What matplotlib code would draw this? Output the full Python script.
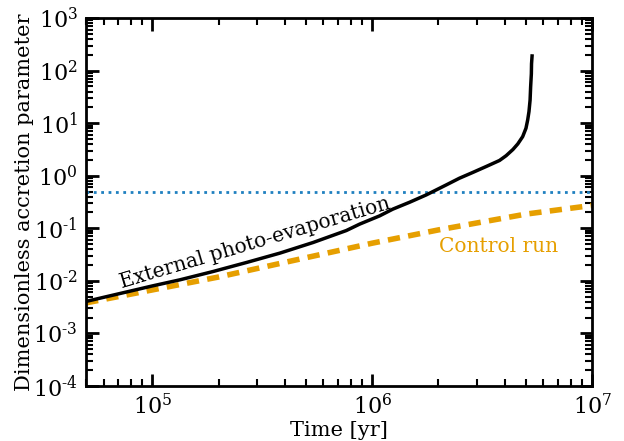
import math
import matplotlib
matplotlib.use('Agg')
import matplotlib.pyplot as plt

# external photo-evaporation run
t_ext = [5e4, 1e5, 1.337e5, 1.89e5, 2.68e5, 3.8e5, 5.38e5, 7.62e5, 8.77e5, 1.08e6,
         1.24e6, 1.48e6, 1.76e6, 2.17e6, 2.49e6, 2.86e6, 3.3e6, 3.79e6, 4.06e6, 4.36e6,
         4.59e6, 4.83e6, 5.0e6, 5.09e6, 5.16e6, 5.22e6, 5.25e6, 5.29e6, 5.30e6, 5.33e6]
a_ext = [4.05e-3, 7.98e-3, 0.01045, 0.01503, 0.0223, 0.0336, 0.0535, 0.0904, 0.12, 0.172,
         0.231, 0.313, 0.431, 0.668, 0.895, 1.15, 1.5, 1.95, 2.4, 3.15,
         4.03, 5.54, 8.0, 11.5, 16.6, 27.5, 49, 87, 135, 190]

# control run
t_ctrl = [5e4, 1e5, 2e5, 5e5, 1e6, 2e6, 5e6, 1e7]
a_ctrl = [3.8e-3, 6.7e-3, 1.18e-2, 2.75e-2, 5.2e-2, 9.3e-2, 0.186, 0.272]

a_crit = 0.5

plt.rcParams['font.family'] = 'DejaVu Serif'
plt.rcParams['mathtext.fontset'] = 'dejavuserif'

fig = plt.figure(figsize=(6.24, 4.41), dpi=100)
ax = fig.add_axes([0.138, 0.125, 0.811, 0.834])

ax.axhline(a_crit, color='#1f80c0', ls=':', lw=2)
ax.plot(t_ctrl, a_ctrl, color='#E69F00', ls='--', lw=4, dashes=(2.2, 1.5))
ax.plot(t_ext, a_ext, color='black', lw=2.5, solid_joinstyle='round')

ax.set_xscale('log')
ax.set_yscale('log')
ax.set_xlim(5e4, 1e7)
ax.set_ylim(1e-4, 1e3)


def fmt(v, pos):
    e = int(round(math.log10(v)))
    if e < 0:
        return r'$10^{\text{-}%d}$' % (-e)
    return r'$10^{%d}$' % e


ax.xaxis.set_major_formatter(plt.FuncFormatter(fmt))
ax.yaxis.set_major_formatter(plt.FuncFormatter(fmt))
ax.xaxis.set_minor_formatter(plt.NullFormatter())
ax.yaxis.set_minor_formatter(plt.NullFormatter())

ax.tick_params(which='both', direction='in', top=True, right=True, labelsize=16)
ax.tick_params(which='major', length=9, width=2, pad=6)
ax.tick_params(which='minor', length=5, width=1.5)
for s in ax.spines.values():
    s.set_linewidth(2)

ax.set_xlabel('Time [yr]', fontsize=15, labelpad=1)
ax.set_ylabel('Dimensionless accretion parameter', fontsize=15, labelpad=-1)

ax.text(2.92e5, 0.053, 'External photo-evaporation', rotation=16.5,
        ha='center', va='center', fontsize=14.5)
ax.text(3.75e6, 0.044, 'Control run', color='#E69F00',
        ha='center', va='center', fontsize=14.5)

fig.savefig('out.png', dpi=100)
